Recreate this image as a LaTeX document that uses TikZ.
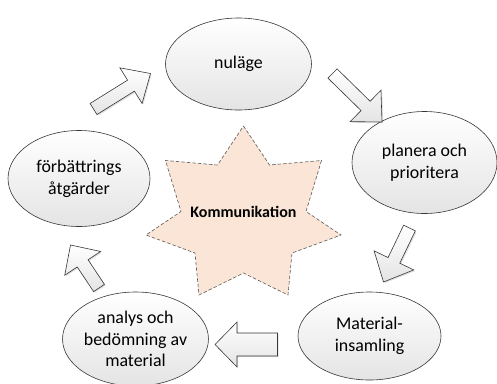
\documentclass[tikz,border=0pt]{standalone}
\usepackage{fontspec}
\setmainfont{Carlito}
\usetikzlibrary{calc,shapes.geometric,shadows}
\definecolor{starfill}{RGB}{251,229,214}
\definecolor{staredge}{RGB}{90,90,90}
\definecolor{edge}{RGB}{55,55,55}
\definecolor{shadebot}{RGB}{228,228,228}
\tikzset{
  bubble/.style={ellipse, draw=edge, line width=0.6pt, top color=white, bottom color=shadebot,
    inner sep=0pt, align=center, text=black, font=\fontsize{17.9}{21.7}\selectfont},
  barrow/.style={draw=edge, line width=0.6pt, line join=miter, top color=white, bottom color=shadebot,
    drop shadow={shadow xshift=1.2pt, shadow yshift=-1.2pt, opacity=0.25}},
  starshape/.style={fill=starfill, draw=staredge, line width=0.6pt, dash pattern=on 3.5pt off 2pt, line join=miter},
}
% #1 tail, #2 tip, #3 shaft half width, #4 head half width, #5 head length, #6 name
\newcommand\blockarrow[6]{%
  \coordinate (#6-hb) at ($(#2)!#5!(#1)$);
  \shade[barrow] ($(#1)!#3!90:(#2)$) -- ($(#6-hb)!#3!90:(#2)$) -- ($(#6-hb)!#4!90:(#2)$)
    -- (#2) -- ($(#6-hb)!#4!-90:(#2)$) -- ($(#6-hb)!#3!-90:(#2)$) -- ($(#1)!#3!-90:(#2)$) -- cycle;
}
\begin{document}
\begin{tikzpicture}[x=1pt,y=-1pt]
\useasboundingbox (0,0) rectangle (497,383);
\clip (0,0) rectangle (497,383);

% star
\draw[starshape] (243.5,126) coordinate (sT) -- (269.5,165) -- (321.5,160.5) -- (306,211.5)
  -- (341,235) -- (292,253) -- (288,295) -- (243.5,273) -- (199,295) -- (195,253)
  -- (146,235) -- (181,211.5) -- (165.5,160.5) -- (217.5,165) -- cycle;
\node[font=\bfseries\fontsize{16}{19}\selectfont, text=black] (komm) at (243.5,212) {Kommunikation};

% ellipses
\node[bubble, minimum width=146, minimum height=92] (nulage) at (238.5,64) {nuläge};
\node[bubble, minimum width=145, minimum height=102] (planera) at (424.5,162.5) {planera och\\prioritera};
\node[bubble, minimum width=142, minimum height=96] (forb) at (79,178.5) {förbättrings\\åtgärder};
\node[bubble, minimum width=143, minimum height=88] (material) at (369.5,336) {Material-\\insamling};
\node[bubble, minimum width=142, minimum height=94] (analys) at (135.5,339) {analys och\\bedömning av\\material};

% block arrows
\coordinate (a1t) at (332.5,73.5);  \coordinate (a1h) at (382,122);
\coordinate (a2t) at (409.5,228);   \coordinate (a2h) at (383.5,282);
\coordinate (a3t) at (277.5,344.5); \coordinate (a3h) at (215,344.5);
\coordinate (a4t) at (99,288);      \coordinate (a4h) at (70.5,245);
\coordinate (a5t) at (93.5,109);    \coordinate (a5h) at (150.5,73.5);
\blockarrow{a1t}{a1h}{6.5pt}{22pt}{23pt}{a1}
\blockarrow{a2t}{a2h}{6.5pt}{22pt}{24pt}{a2}
\blockarrow{a3t}{a3h}{11.5pt}{22.5pt}{22pt}{a3}
\blockarrow{a4t}{a4h}{6.5pt}{21.5pt}{22pt}{a4}
\blockarrow{a5t}{a5h}{6.5pt}{21pt}{23pt}{a5}
\end{tikzpicture}
\end{document}
